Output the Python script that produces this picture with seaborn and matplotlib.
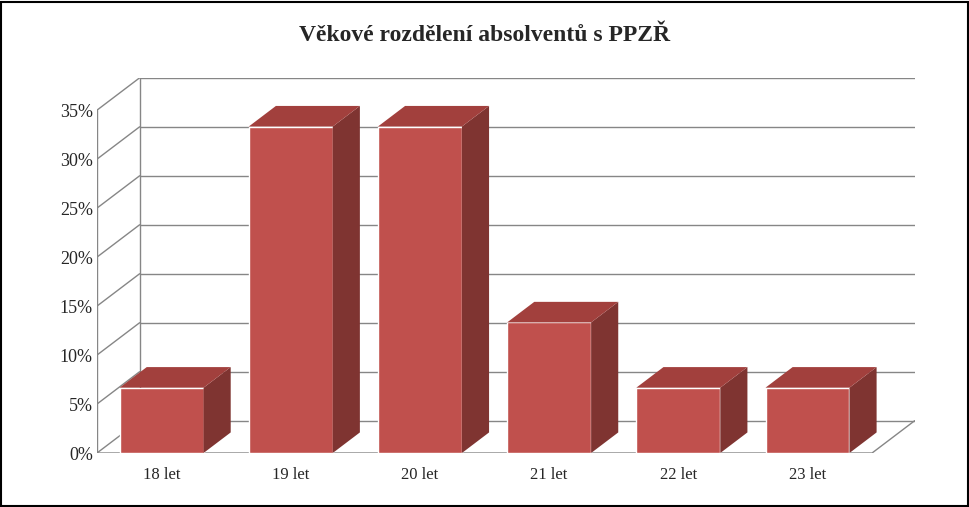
import matplotlib
matplotlib.use("Agg")
import matplotlib.pyplot as plt
import seaborn as sns
import pandas as pd
from matplotlib.patches import Polygon, Rectangle

categories = ["18 let", "19 let", "20 let", "21 let", "22 let", "23 let"]
values = [6.67, 33.33, 33.33, 13.33, 6.67, 6.67]
yticks = [0, 5, 10, 15, 20, 25, 30, 35]

sns.set_theme(style="white")
plt.rcParams['font.family'] = ['Liberation Serif', 'DejaVu Serif']

fig = plt.figure(figsize=(9.7, 5.07), dpi=100)
ax = fig.add_axes([0.1, 0.1065, 0.843, 0.74])
df = pd.DataFrame({"cat": categories, "val": values})
sns.barplot(data=df, x="cat", y="val", color="#C0504D", saturation=1, width=0.65, ax=ax, zorder=3)

ddx, ddy = 0.33, 3.3     # wall depth
bdx, bdy = 0.21, 2.1     # bar depth
grid = "#868686"
for y in yticks:
    ax.plot([-0.5 + ddx, 5.5 + ddx], [y + ddy, y + ddy], color=grid, lw=1, zorder=1)
    ax.plot([-0.5, -0.5 + ddx], [y, y + ddy], color=grid, lw=1, zorder=1)
ax.plot([-0.5, -0.5], [0, 35], color=grid, lw=1, zorder=1)
ax.plot([-0.5 + ddx, -0.5 + ddx], [ddy, 35 + ddy], color=grid, lw=1, zorder=1)
ax.plot([-0.5, 5.5, 5.5 + ddx], [0, 0, ddy], color=grid, lw=1, zorder=1)

for p in ax.patches[:]:
    x0, w, h = p.get_x(), p.get_width(), p.get_height()
    x1 = x0 + w
    ax.add_patch(Polygon([(x1, 0), (x1 + bdx, bdy), (x1 + bdx, h + bdy), (x1, h)],
                         closed=True, fc="#7F3431", ec="none", zorder=3))
    ax.add_patch(Polygon([(x0, h), (x0 + bdx, h + bdy), (x1 + bdx, h + bdy), (x1, h)],
                         closed=True, fc="#A2403D", ec="none", zorder=3))

ax.set_xlim(-0.5, 5.5 + ddx)
ax.set_ylim(0, 35 + ddy)
ax.set_yticks(yticks)
ax.set_yticklabels([f"{v}%" for v in yticks], fontsize=13)
ax.tick_params(axis="x", labelsize=12, length=0, pad=10)
ax.tick_params(axis="y", length=0, pad=3)
ax.set_xlabel("")
ax.set_ylabel("")
for s in ax.spines.values():
    s.set_visible(False)

fig.text(0.5, 0.93, "Věkové rozdělení absolventů s PPZŘ", ha="center", va="center",
         fontsize=17, fontweight="bold")
fig.add_artist(Rectangle((0.001, 0.002), 0.997, 0.995, transform=fig.transFigure,
                         fill=False, ec="black", lw=1.5))
fig.savefig("out.png", dpi=100)
